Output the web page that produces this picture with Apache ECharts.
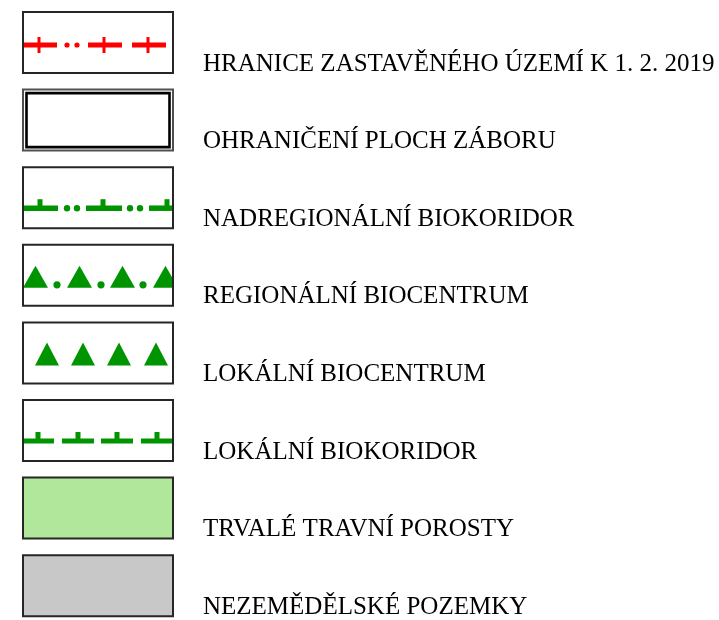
<!DOCTYPE html>
<html><head><meta charset="utf-8">
<script src="https://cdn.jsdelivr.net/npm/echarts@6/dist/echarts.min.js"></script>
<style>html,body{margin:0;padding:0;background:#fff}#c{width:719px;height:620px}</style>
</head><body><div id="c"></div>
<script>
// Legend entries (top to bottom)
const labels = [
  'HRANICE ZASTAVĚNÉHO ÚZEMÍ K 1. 2. 2019',
  'OHRANIČENÍ PLOCH ZÁBORU',
  'NADREGIONÁLNÍ BIOKORIDOR',
  'REGIONÁLNÍ BIOCENTRUM',
  'LOKÁLNÍ BIOCENTRUM',
  'LOKÁLNÍ BIOKORIDOR',
  'TRVALÉ TRAVNÍ POROSTY',
  'NEZEMĚDĚLSKÉ POZEMKY'
];
const symbolTypes = ['redBoundary','doubleFrame','supraCorridor','regionalCentre','localCentre','localCorridor','fill','fill'];
const fillColors = ['#ffffff','#ffffff','#ffffff','#ffffff','#ffffff','#ffffff','#b0e79b','#c8c8c8'];
const rowIndex = [0,1,2,3,4,5,6,7];

const RED = '#ff0000', GREEN = '#009400';

function rect(x, y, w, h, fill) { return {type:'rect', shape:{x, y, width:w, height:h}, style:{fill}}; }
function circ(cx, cy, r, fill) { return {type:'circle', shape:{cx, cy, r}, style:{fill}}; }
function clipPoly(pts, xmax) {
  const out = [];
  for (let k = 0; k < pts.length; k++) {
    const a = pts[k], b = pts[(k + 1) % pts.length];
    const ain = a[0] <= xmax, bin = b[0] <= xmax;
    if (ain) out.push(a);
    if (ain !== bin) {
      const t = (xmax - a[0]) / (b[0] - a[0]);
      out.push([xmax, a[1] + t * (b[1] - a[1])]);
    }
  }
  return out;
}
function tri(cx, baseY, w, h, fill, xmax) {
  let pts = [[cx - w/2, baseY], [cx, baseY - h], [cx + w/2, baseY]];
  pts = clipPoly(pts, xmax);
  return {type:'polygon', shape:{points: pts}, style:{fill}};
}

function renderItem(params, api) {
  const i = api.value(0);
  const center = api.coord([0, i]);
  const rowH = api.size([0, 1])[1];
  const boxH = rowH * 0.786;
  const T = center[1] - boxH / 2;
  const L = api.coord([23, i])[0];
  const R = api.coord([173, i])[0];
  const W = R - L;
  const kind = symbolTypes[i];
  const ch = [];
  ch.push(rect(L, T, W, boxH, fillColors[i]));
  const seg = (a, b, y, th, col) => ch.push(rect(L + a, y - th/2, b - a, th, col));
  if (kind === 'redBoundary') {
    const y = T + 33;
    [[0,34],[65,99],[109,143]].forEach(s => seg(s[0], s[1], y, 5, RED));
    [16, 81, 125].forEach(x => ch.push(rect(L + x - 1.5, y - 8, 3, 16, RED)));
    [44, 54].forEach(x => ch.push(circ(L + x, y, 2.6, RED)));
  } else if (kind === 'supraCorridor') {
    const y = T + 41;
    [[0,35],[63,99],[126,150]].forEach(s => seg(s[0], s[1], y, 5.5, GREEN));
    [17, 80, 144].forEach(x => ch.push(rect(L + x - 2.5, T + 32, 5, y - T - 32, GREEN)));
    [44, 54, 107, 117].forEach(x => ch.push(circ(L + x, y, 3.2, GREEN)));
  } else if (kind === 'regionalCentre') {
    [12.5, 56.5, 99.5, 142.5].forEach(x => ch.push(tri(L + x, T + 43, 25, 22, GREEN, R)));
    [34, 78, 120].forEach(x => ch.push(circ(L + x, T + 40, 3.6, GREEN)));
  } else if (kind === 'localCentre') {
    [24, 60, 96, 133].forEach(x => ch.push(tri(L + x, T + 43, 24, 23, GREEN, R)));
  } else if (kind === 'localCorridor') {
    const y = T + 41;
    [[0,31],[39,71],[78,110],[118,150]].forEach(s => seg(s[0], s[1], y, 5, GREEN));
    [15, 55, 94, 134].forEach(x => ch.push(rect(L + x - 2.5, T + 32, 5, y - T - 32, GREEN)));
  }
  if (kind === 'doubleFrame') {
    ch.push({type:'rect', shape:{x:L, y:T, width:W, height:boxH}, style:{fill:'none', stroke:'#505050', lineWidth:2}});
    ch.push({type:'rect', shape:{x:L+3.5, y:T+3.5, width:W-7, height:boxH-7}, style:{fill:'none', stroke:'#000', lineWidth:2.6}});
  } else {
    ch.push({type:'rect', shape:{x:L, y:T, width:W, height:boxH}, style:{fill:'none', stroke:'#262626', lineWidth:2}});
  }
  ch.push({type:'text', style:{x: api.coord([203, i])[0], y: T + 52, text: labels[i],
    font: '25px "Liberation Serif", serif', fill:'#000', align:'left', verticalAlign:'middle'}});
  return {type:'group', children: ch};
}

const chart = echarts.init(document.getElementById('c'), null, {renderer:'canvas'});
chart.setOption({
  animation: false,
  grid: {left:0, right:0, top:0, bottom:0},
  xAxis: {type:'value', min:0, max:719, show:false},
  yAxis: {type:'value', inverse:true, min:-42.5/77.6, max:-42.5/77.6 + 620/77.6, show:false},
  series: [{
    type:'custom',
    renderItem,
    clip:false,
    data: rowIndex.map(i => [i])
  }]
});
</script>
</body></html>
